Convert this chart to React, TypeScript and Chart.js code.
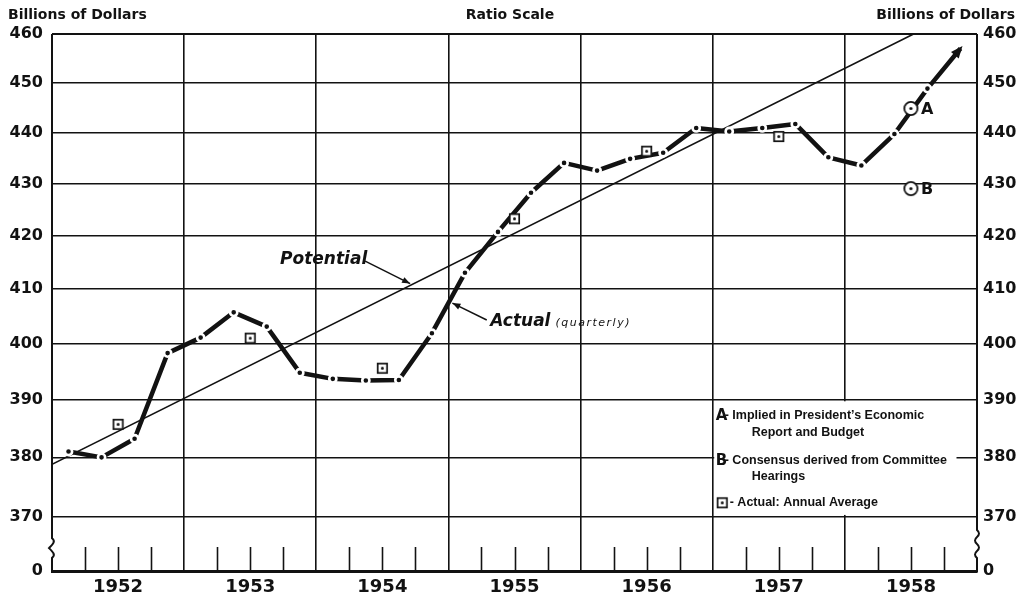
import React, { useEffect, useRef } from 'react';
import { Chart, registerables } from 'chart.js';

Chart.register(...registerables);

// ---------- data ----------
const years = ['1952', '1953', '1954', '1955', '1956', '1957', '1958'];
const startYear = 1952;
const endYear = 1959;

// GNP, actual, quarterly (billions of dollars), 1952 Q1 .. 1958 Q4
const actualQuarterly = [
  381.0, 380.0, 383.2, 398.3,
  401.1, 405.7, 403.1, 394.8,
  393.7, 393.4, 393.5, 401.9,
  413.0, 420.7, 428.2, 434.0,
  432.5, 434.8, 436.0, 440.9,
  440.2, 440.9, 441.7, 435.1,
  433.5, 439.7, 448.8, 457.0,
];

// Actual: annual average, 1952 .. 1957
const annualYears = ['1952', '1953', '1954', '1955', '1956', '1957'];
const annualAverage = [385.7, 401.0, 395.6, 423.2, 436.3, 439.2];

// 1958 estimates
const targetLabels = ['A', 'B'];
const targetValues = [444.8, 429.0];
const targetYear = '1958';

// Potential (straight on the ratio scale)
const potentialYears = [1952.0, 1958.52];
const potentialValues = [378.8, 460.0];

// axis
const yTickValues = [370, 380, 390, 400, 410, 420, 430, 440, 450, 460];
const yBreakValue = 361; // bottom of the broken ratio axis, labelled "0"
const yBreakLabel = '0';
const yMax = 460;

const legendLines = [
  { key: 'A', text: '- Implied in President\u2019s Economic' },
  { key: '', text: 'Report and Budget' },
  { key: 'B', text: '- Consensus derived from Committee' },
  { key: '', text: 'Hearings' },
  { key: 'box', text: '- Actual: Annual Average' },
];

// ---------- styles ----------
const INK = '#121212';
const FONT = '"DejaVu Sans", sans-serif';

function makeSquare(): HTMLCanvasElement {
  const c = document.createElement('canvas');
  c.width = 13;
  c.height = 13;
  const g = c.getContext('2d')!;
  g.fillStyle = '#fff';
  g.fillRect(1, 1, 11, 11);
  g.strokeStyle = INK;
  g.lineWidth = 1.7;
  g.strokeRect(1.8, 1.8, 9.4, 9.4);
  g.fillStyle = INK;
  g.beginPath();
  g.arc(6.5, 6.5, 1.5, 0, Math.PI * 2);
  g.fill();
  return c;
}

function makeCircle(): HTMLCanvasElement {
  const c = document.createElement('canvas');
  c.width = 17;
  c.height = 17;
  const g = c.getContext('2d')!;
  g.fillStyle = '#fff';
  g.beginPath();
  g.arc(8.5, 8.5, 6.6, 0, Math.PI * 2);
  g.fill();
  g.strokeStyle = INK;
  g.lineWidth = 1.8;
  g.stroke();
  g.fillStyle = INK;
  g.beginPath();
  g.arc(8.5, 8.5, 1.6, 0, Math.PI * 2);
  g.fill();
  return c;
}

function arrowHead(ctx: CanvasRenderingContext2D, fx: number, fy: number, tx: number, ty: number, len: number, half: number) {
  const a = Math.atan2(ty - fy, tx - fx);
  ctx.beginPath();
  ctx.moveTo(tx, ty);
  ctx.lineTo(tx - len * Math.cos(a) + half * Math.sin(a), ty - len * Math.sin(a) - half * Math.cos(a));
  ctx.lineTo(tx - len * Math.cos(a) - half * Math.sin(a), ty - len * Math.sin(a) + half * Math.cos(a));
  ctx.closePath();
  ctx.fill();
}

export default function App() {
  const ref = useRef<HTMLCanvasElement>(null);

  useEffect(() => {
    const squareImg = makeSquare();
    const circleImg = makeCircle();

    const quarterTicks: number[] = [];
    for (let v = startYear; v <= endYear + 1e-9; v += 0.25) quarterTicks.push(v);

    const actualData = actualQuarterly.map((v, i) => ({ x: startYear + (i + 0.5) / 4, y: v }));
    const annualData = annualAverage.map((v, i) => ({ x: Number(annualYears[i]) + 0.5, y: v }));
    const targetData = targetValues.map((v) => ({ x: Number(targetYear) + 0.5, y: v }));
    const potentialData = potentialValues.map((v, i) => ({ x: potentialYears[i], y: v }));

    const extras = {
      id: 'extras',
      beforeDatasetsDraw(chart: any) {
        const { ctx, chartArea: a, scales } = chart;
        const x = scales.x;
        const y = scales.y;
        ctx.save();
        ctx.strokeStyle = INK;
        ctx.lineCap = 'butt';

        // quarter ticks along the bottom
        ctx.lineWidth = 1.6;
        for (let yr = startYear; yr < endYear; yr++) {
          for (let q = 1; q <= 3; q++) {
            const px = Math.round(x.getPixelForValue(yr + q / 4)) + 0.5;
            ctx.beginPath();
            ctx.moveTo(px, a.bottom);
            ctx.lineTo(px, a.bottom - 24);
            ctx.stroke();
          }
        }

        // side axes with a break between 370 and 0
        const y370 = y.getPixelForValue(370);
        const span = a.bottom - y370;
        ctx.lineWidth = 2;
        // left: brace-like break
        {
          const L = a.left;
          const t = y370 + span * 0.4;
          const b = y370 + span * 0.76;
          const m = (t + b) / 2;
          ctx.beginPath();
          ctx.moveTo(L, a.top);
          ctx.lineTo(L, t);
          ctx.bezierCurveTo(L + 4, t + 3, L + 1, m - 4, L - 3, m);
          ctx.bezierCurveTo(L + 1, m + 4, L + 4, b - 3, L, b);
          ctx.lineTo(L, a.bottom + 1);
          ctx.stroke();
        }
        // right: wavy break
        {
          const R = a.right;
          const t = y370 + span * 0.25;
          const b = y370 + span * 0.76;
          const n = 4;
          const h = (b - t) / n;
          ctx.beginPath();
          ctx.moveTo(R, a.top);
          ctx.lineTo(R, t);
          for (let i = 0; i < n; i++) {
            const dir = i % 2 === 0 ? 4 : -4;
            ctx.quadraticCurveTo(R + dir, t + h * i + h / 2, R, t + h * (i + 1));
          }
          ctx.lineTo(R, a.bottom + 1);
          ctx.stroke();
        }

        // legend box (blank area between 390 and 370 from 1957 to right side)
        const bx = x.getPixelForValue(1957);
        const bt = y.getPixelForValue(390);
        const bb = y.getPixelForValue(370);
        ctx.fillStyle = '#fff';
        ctx.fillRect(bx + 1.5, bt + 1.5, a.right - 22 - bx, bb - bt - 3);

        const rows = [16, 33, 61, 77, 103];
        ctx.fillStyle = INK;
        ctx.textBaseline = 'middle';
        legendLines.forEach((ln, i) => {
          const ry = bt + rows[i];
          if (ln.key === 'A' || ln.key === 'B') {
            ctx.font = `bold 15px ${FONT}`;
            ctx.fillText(ln.key, bx + 3, ry);
            ctx.font = `bold 12.5px "Liberation Sans", Arial, sans-serif`;
            ctx.fillText(ln.text, bx + 12, ry);
          } else if (ln.key === 'box') {
            ctx.drawImage(squareImg, bx + 3, ry - 6.5);
            ctx.font = `bold 12.5px "Liberation Sans", Arial, sans-serif`;
            ctx.fillText(ln.text, bx + 17, ry);
          } else {
            ctx.font = `bold 12.5px "Liberation Sans", Arial, sans-serif`;
            ctx.fillText(ln.text, bx + 39, ry);
          }
        });
        ctx.restore();
      },
      afterDatasetsDraw(chart: any) {
        const { ctx, scales } = chart;
        const x = scales.x;
        const y = scales.y;
        ctx.save();
        ctx.fillStyle = INK;
        ctx.strokeStyle = INK;

        // arrowhead at end of actual line
        const meta = chart.getDatasetMeta(1);
        const pts = meta.data;
        const p1 = pts[pts.length - 2];
        const p2 = pts[pts.length - 1];
        arrowHead(ctx, p1.x, p1.y, p2.x + 2, p2.y - 2.5, 12, 5);

        // A / B letters
        ctx.font = `bold 16px ${FONT}`;
        ctx.textBaseline = 'middle';
        ctx.textAlign = 'left';
        targetValues.forEach((v, i) => {
          ctx.fillText(targetLabels[i], x.getPixelForValue(Number(targetYear) + 0.5) + 10, y.getPixelForValue(v) + 1);
        });

        // Potential annotation
        ctx.font = `italic bold 17px ${FONT}`;
        ctx.fillText('Potential', x.getPixelForValue(1953.726), y.getPixelForValue(415.5));
        ctx.lineWidth = 1.5;
        {
          const sx = x.getPixelForValue(1954.37), sy = y.getPixelForValue(415.2);
          const ex = x.getPixelForValue(1954.71), ey = y.getPixelForValue(411.0);
          ctx.beginPath();
          ctx.moveTo(sx, sy);
          ctx.lineTo(ex, ey);
          ctx.stroke();
          arrowHead(ctx, sx, sy, ex, ey, 8, 3.2);
        }

        // Actual annotation
        ctx.font = `italic bold 17px ${FONT}`;
        ctx.fillText('Actual', x.getPixelForValue(1955.316), y.getPixelForValue(404.0));
        ctx.font = `italic 11px ${FONT}`;
        (ctx as any).letterSpacing = '1.5px';
        ctx.fillText('(quarterly)', x.getPixelForValue(1955.81), y.getPixelForValue(404.0) + 2);
        (ctx as any).letterSpacing = '0px';
        {
          const sx = x.getPixelForValue(1955.29), sy = y.getPixelForValue(404.3);
          const ex = x.getPixelForValue(1955.03), ey = y.getPixelForValue(407.4);
          ctx.beginPath();
          ctx.moveTo(sx, sy);
          ctx.lineTo(ex, ey);
          ctx.stroke();
          arrowHead(ctx, sx, sy, ex, ey, 8, 3.2);
        }

        // header texts
        ctx.font = `bold 14px ${FONT}`;
        ctx.textAlign = 'left';
        ctx.fillText('Billions of Dollars', 8, 15);
        ctx.textAlign = 'center';
        ctx.fillText('Ratio Scale', 510, 15);
        ctx.textAlign = 'right';
        ctx.fillText('Billions of Dollars', 1015, 15);
        ctx.restore();
      },
    };

    const yTicksBuilder = (s: any) => {
      s.ticks = [yBreakValue, ...yTickValues].map((v) => ({ value: v }));
    };
    const yLabel = (v: any) => (v === yBreakValue ? yBreakLabel : String(v));
    const tickFont = { family: FONT, weight: 'bold' as const, size: 16 };

    const chart = new Chart(ref.current!, {
      type: 'line',
      data: {
        datasets: [
          {
            label: 'Potential',
            data: potentialData,
            borderColor: INK,
            borderWidth: 1.6,
            pointRadius: 0,
            order: 4,
          },
          {
            label: 'Actual (quarterly)',
            data: actualData,
            borderColor: INK,
            borderWidth: 4.5,
            pointRadius: (c: any) => (c.dataIndex === actualQuarterly.length - 1 ? 0 : 3.6),
            pointBackgroundColor: INK,
            pointBorderColor: '#fff',
            pointBorderWidth: 2.6,
            order: 3,
          },
          {
            label: 'Actual: Annual Average',
            data: annualData,
            showLine: false,
            pointStyle: squareImg as any,
            pointRadius: 6,
            order: 2,
          },
          {
            label: 'Estimates',
            data: targetData,
            showLine: false,
            pointStyle: circleImg as any,
            pointRadius: 7,
            order: 1,
          },
        ] as any,
      },
      options: {
        animation: false,
        responsive: false,
        maintainAspectRatio: false,
        layout: { padding: { top: 34, left: 0, right: 0, bottom: 0 } },
        plugins: { legend: { display: false }, tooltip: { enabled: false } },
        elements: { line: { tension: 0, borderCapStyle: 'butt', borderJoinStyle: 'round' } },
        scales: {
          x: {
            type: 'linear',
            position: 'bottom',
            min: startYear,
            max: endYear,
            afterBuildTicks: (s: any) => {
              s.ticks = quarterTicks.map((v) => ({ value: v }));
            },
            afterFit: (s: any) => {
              s.height = 30;
            },
            grid: {
              drawTicks: false,
              lineWidth: 1.6,
              color: (c: any) => {
                const v = c.tick ? c.tick.value : NaN;
                return Number.isInteger(v) && v > startYear && v < endYear ? INK : 'rgba(0,0,0,0)';
              },
            },
            border: { display: true, color: INK, width: 3 },
            ticks: {
              autoSkip: false,
              maxRotation: 0,
              padding: 6,
              color: INK,
              font: { family: FONT, weight: 'bold', size: 18 },
              callback: (v: any) => {
                const idx = years.indexOf(String(Number(v) - 0.5));
                return idx >= 0 && Number.isInteger(Number(v) - 0.5) ? years[idx] : '';
              },
            },
          },
          y: {
            type: 'logarithmic',
            position: 'left',
            min: yBreakValue,
            max: yMax,
            afterBuildTicks: yTicksBuilder,
            afterFit: (s: any) => {
              s.width = 52;
            },
            grid: {
              drawTicks: false,
              lineWidth: (c: any) => (c.tick && c.tick.value === yMax ? 2 : 1.6),
              color: (c: any) => (c.tick && c.tick.value === yBreakValue ? 'rgba(0,0,0,0)' : INK),
            },
            border: { display: false },
            ticks: { autoSkip: false, padding: 9, color: INK, font: tickFont, callback: yLabel },
          },
          y2: {
            type: 'logarithmic',
            position: 'right',
            min: yBreakValue,
            max: yMax,
            afterBuildTicks: yTicksBuilder,
            afterFit: (s: any) => {
              s.width = 41;
            },
            grid: { display: false, drawTicks: false },
            border: { display: false },
            ticks: { autoSkip: false, padding: 6, color: INK, font: tickFont, callback: yLabel },
          },
        },
      } as any,
      plugins: [extras],
    });
    return () => chart.destroy();
  }, []);

  return (
    <div style={{ position: 'fixed', left: 0, top: 0, width: 1018, height: 601, background: '#fff' }}>
      <canvas ref={ref} width={1018} height={601} style={{ display: 'block', width: 1018, height: 601 }} />
    </div>
  );
}
